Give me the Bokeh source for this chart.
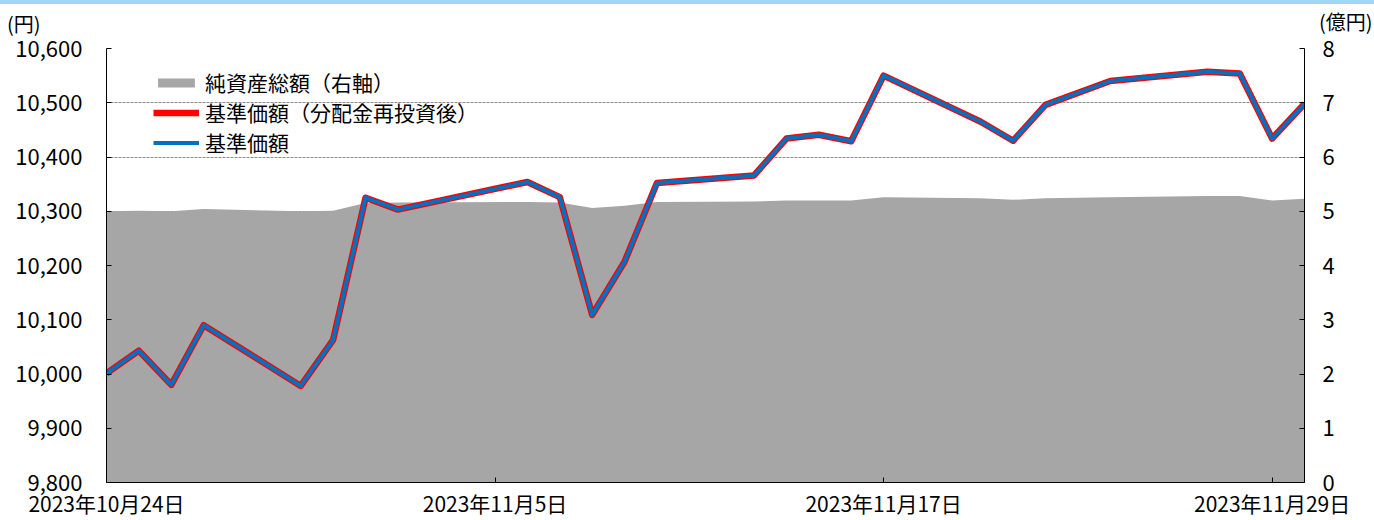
import pandas as pd
from bokeh.plotting import figure
from bokeh.models import (Range1d, LinearAxis, FixedTicker, NumeralTickFormatter,
                          Legend, LegendItem, ColumnDataSource, Div)
from bokeh.embed import file_html
from bokeh.resources import INLINE

# ---------------- data ----------------
dates = ["2023-10-24", "2023-10-25", "2023-10-26", "2023-10-27", "2023-10-30",
         "2023-10-31", "2023-11-01", "2023-11-02", "2023-11-06", "2023-11-07",
         "2023-11-08", "2023-11-09", "2023-11-10", "2023-11-13", "2023-11-14",
         "2023-11-15", "2023-11-16", "2023-11-17", "2023-11-20", "2023-11-21",
         "2023-11-22", "2023-11-24", "2023-11-27", "2023-11-28", "2023-11-29",
         "2023-11-30"]
nav_reinvested = [10001, 10043, 9980, 10090, 9978, 10063, 10325, 10303, 10354, 10326,
                  10109, 10207, 10352, 10366, 10434, 10441, 10429, 10550, 10465, 10430,
                  10496, 10540, 10557, 10554, 10434, 10498]
nav = [10001, 10043, 9980, 10090, 9978, 10063, 10325, 10303, 10354, 10326,
       10109, 10207, 10352, 10366, 10434, 10441, 10429, 10550, 10465, 10430,
       10496, 10540, 10557, 10554, 10434, 10498]
net_assets = [5.00, 5.01, 5.00, 5.04, 5.00, 5.01, 5.15, 5.16, 5.17, 5.16,
              5.06, 5.10, 5.17, 5.18, 5.20, 5.20, 5.20, 5.26, 5.24, 5.21,
              5.24, 5.26, 5.28, 5.28, 5.20, 5.23]

x_tick_dates = ["2023-10-24", "2023-11-05", "2023-11-17", "2023-11-29"]
x_tick_labels = ["2023年10月24日", "2023年11月5日", "2023年11月17日", "2023年11月29日"]
yen_ticks = [9800, 9900, 10000, 10100, 10200, 10300, 10400, 10500, 10600]
oku_ticks = [0, 1, 2, 3, 4, 5, 6, 7, 8]

legend_labels = ["純資産総額（右軸）", "基準価額（分配金再投資後）", "基準価額"]
left_unit = "(円)"
right_unit = "(億円)"

FONT = "Noto Sans CJK JP"

# ---------------- figure ----------------
x = pd.to_datetime(dates)
src = ColumnDataSource(dict(x=x, nav=nav, navr=nav_reinvested,
                            assets=net_assets, zero=[0] * len(dates)))

p = figure(width=1374, height=520, x_axis_type="datetime",
           x_range=Range1d(x[0].to_pydatetime(), x[-1].to_pydatetime()),
           y_range=Range1d(yen_ticks[0], yen_ticks[-1]),
           output_backend="svg", toolbar_location=None,
           min_border_left=106, min_border_right=70,
           min_border_top=48, min_border_bottom=34)
p.extra_y_ranges = {"assets": Range1d(oku_ticks[0], oku_ticks[-1])}
p.outline_line_color = None

area = p.varea(x="x", y1="zero", y2="assets", source=src,
               y_range_name="assets", fill_color="#A6A6A6")
red = p.line("x", "navr", source=src, line_color="#FF0000", line_width=6.5,
             line_join="round")
blue = p.line("x", "nav", source=src, line_color="#0070C0", line_width=4,
              line_join="round")

# grid
p.xgrid.visible = False
p.ygrid.grid_line_color = "#8C8C8C"
p.ygrid.grid_line_dash = "3 1"
p.ygrid.grid_line_width = 1


def style_axis(ax, standoff, size="22px"):
    ax.axis_line_color = "black"
    ax.axis_line_width = 1
    ax.major_tick_in = 5
    ax.major_tick_out = 0
    ax.major_tick_line_color = "black"
    ax.minor_tick_line_color = None
    ax.major_label_text_font = FONT
    ax.major_label_text_font_size = size
    ax.major_label_text_color = "black"
    ax.major_label_standoff = standoff


# left axis
yl = p.yaxis[0]
yl.ticker = FixedTicker(ticks=yen_ticks)
yl.formatter = NumeralTickFormatter(format="0,0")
style_axis(yl, 24)

# right axis
yr = LinearAxis(y_range_name="assets", ticker=FixedTicker(ticks=oku_ticks))
style_axis(yr, 18)
p.add_layout(yr, "right")

# bottom axis
tick_ms = [float(t) for t in (pd.to_datetime(x_tick_dates).astype("int64") // 10**6)]
xa = p.xaxis[0]
xa.ticker = FixedTicker(ticks=tick_ms)
xa.major_label_overrides = {t: lab for t, lab in zip(tick_ms, x_tick_labels)}
style_axis(xa, 5, "21px")

# legend
legend = Legend(items=[LegendItem(label=legend_labels[0], renderers=[area]),
                       LegendItem(label=legend_labels[1], renderers=[red]),
                       LegendItem(label=legend_labels[2], renderers=[blue])],
                location=(47, 325), padding=0, margin=0,
                background_fill_alpha=0, border_line_alpha=0,
                glyph_width=46, glyph_height=11, label_standoff=6,
                label_height=20, spacing=0,
                label_text_font=FONT, label_text_font_size="21px",
                label_text_color="black")
p.add_layout(legend)


# unit captions above the axes (absolutely positioned over the page)
def caption(text, left, top, width):
    return Div(text=text, width=width, height=30,
               styles={"position": "absolute", "left": f"{left}px", "top": f"{top}px",
                       "font-family": FONT, "font-size": "20px", "line-height": "30px",
                       "color": "black", "white-space": "nowrap",
                       "margin": "0", "padding": "0"})


unit_left = caption(left_unit, 7, 9, 60)
unit_right = caption(right_unit, 1319, 7, 55)
band = Div(text="", width=1374, height=4,
           styles={"position": "absolute", "left": "0px", "top": "0px",
                   "background-color": "#A0D8F4", "margin": "0", "padding": "0"})

open("out.html", "w").write(file_html([p, unit_left, unit_right, band], INLINE))
